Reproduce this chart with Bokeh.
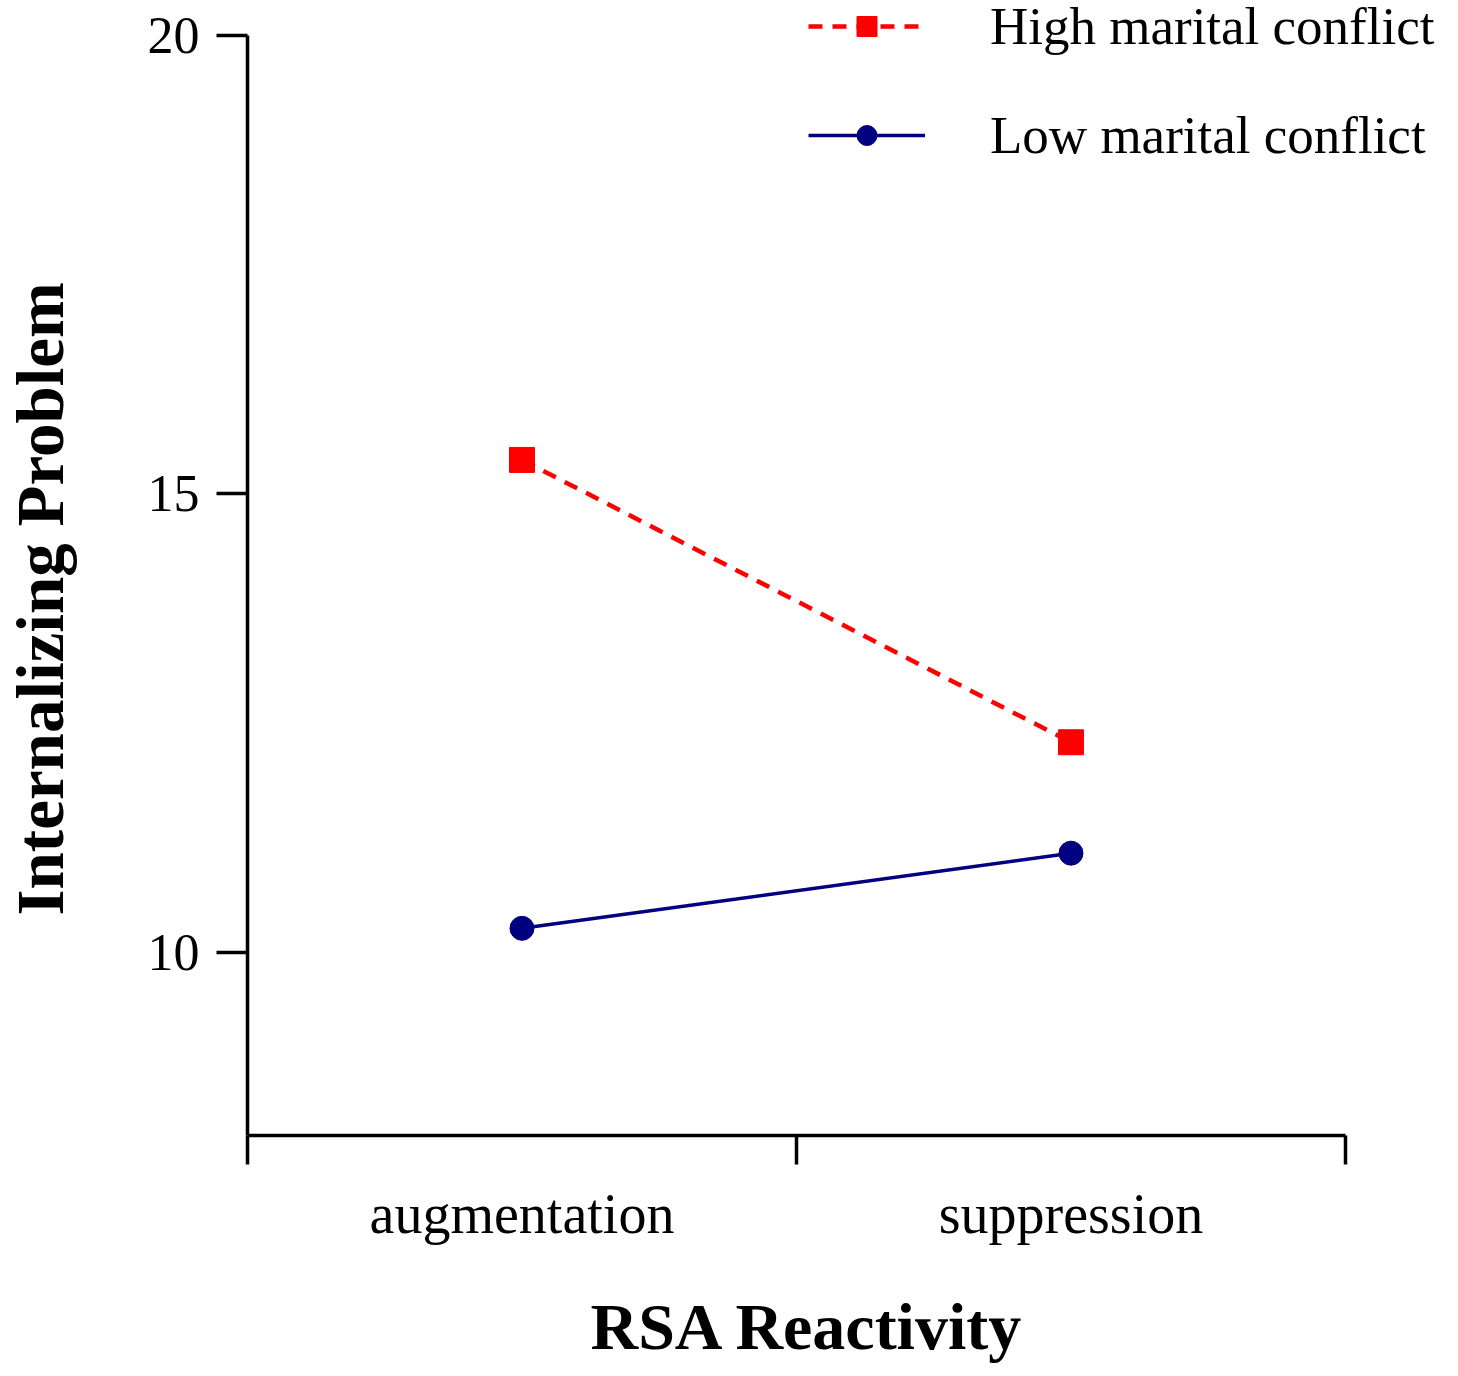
from bokeh.plotting import figure
from bokeh.models import (Range1d, FixedTicker, Legend, LegendItem, ColumnDataSource, Title,
                          LinearAxis)
from bokeh.embed import file_html
from bokeh.resources import INLINE

categories = ["augmentation", "suppression"]
x_pos = [0.5, 1.5]
high_values = [15.37, 12.29]
low_values = [10.26, 11.08]
y_ticks = [10, 15, 20]
series_names = ["High marital conflict", "Low marital conflict"]
x_title = "RSA Reactivity"
y_title = "Internalizing Problem"

FONT = "Liberation Serif"

# frame extends past the axes so that the legend (drawn at top right) is not clipped;
# axis bounds keep the axis lines to x 0..2 and y 8..20
p = figure(width=1450, height=1368, output_backend="svg", toolbar_location=None,
           x_range=Range1d(0, 2.1913), y_range=Range1d(8, 20.382),
           min_border_left=247, min_border_right=0, min_border_top=0, min_border_bottom=233)
p.outline_line_color = None
p.grid.visible = False
p.background_fill_color = "white"
p.border_fill_color = "white"

# x axis: labels at category centres, ticks at boundaries
p.xaxis.bounds = (0, 2)
p.xaxis.ticker = FixedTicker(ticks=x_pos, minor_ticks=[0, 1, 2])
p.xaxis.major_label_overrides = {x: c for x, c in zip(x_pos, categories)}
p.xaxis.major_tick_out = 0
p.xaxis.major_tick_in = 0
p.xaxis.minor_tick_out = 29
p.xaxis.minor_tick_in = 0
p.xaxis.minor_tick_line_width = 3.5
p.xaxis.axis_line_width = 3.5
p.xaxis.major_label_text_font = FONT
p.xaxis.major_label_text_font_size = "56px"
p.xaxis.major_label_text_color = "black"
p.xaxis.major_label_standoff = 18

p.yaxis.bounds = (8, 20)
p.yaxis.ticker = FixedTicker(ticks=y_ticks, minor_ticks=[])
p.yaxis.major_tick_out = 31
p.yaxis.major_tick_in = 0
p.yaxis.major_tick_line_width = 3.5
p.yaxis.axis_line_width = 3.5
p.yaxis.major_label_text_font = FONT
p.yaxis.major_label_text_font_size = "52px"
p.yaxis.major_label_text_color = "black"
p.yaxis.major_label_standoff = 17


def spacer(size, tick):
    # an invisible axis whose only job is to take up `size` pixels of the side panel
    return LinearAxis(ticker=FixedTicker(ticks=[tick], minor_ticks=[]), major_tick_out=size,
                      major_tick_in=0, major_tick_line_alpha=0, major_label_standoff=0,
                      major_label_overrides={tick: ""}, major_label_text_font_size="1px",
                      axis_line_alpha=0)


p.add_layout(spacer(40, 1), "below")
p.add_layout(spacer(68, 10), "left")

# axis titles as Titles, aligned to the axis extent (not the wider frame)
p.add_layout(Title(text=x_title, align="left", offset=343, text_font=FONT,
                   text_font_style="bold", text_font_size="66px", text_color="black",
                   text_line_height=0.9, standoff=0), "below")
p.add_layout(Title(text=y_title, align="left", offset=220, text_font=FONT,
                   text_font_style="bold", text_font_size="67px", text_color="black",
                   text_line_height=0.9, standoff=0), "left")

src_h = ColumnDataSource(dict(x=x_pos, y=high_values))
src_l = ColumnDataSource(dict(x=x_pos, y=low_values))

lh = p.line("x", "y", source=src_h, line_color="#FF0000", line_width=4.5, line_dash="14 10")
mh = p.scatter("x", "y", source=src_h, marker="square", size=25, fill_color="#FF0000", line_color="#FF0000")
ll = p.line("x", "y", source=src_l, line_color="#000080", line_width=3.5)
ml = p.scatter("x", "y", source=src_l, marker="circle", size=24, fill_color="#000080", line_color="#000080")

legend = Legend(items=[LegendItem(label=series_names[0], renderers=[lh, mh]),
                       LegendItem(label=series_names[1], renderers=[ll, ml])],
                location=(561, 970), orientation="vertical",
                glyph_width=117, glyph_height=50, label_height=50,
                label_standoff=65, spacing=49, padding=0, margin=0,
                border_line_color=None, background_fill_alpha=0,
                label_text_font=FONT, label_text_font_size="53px", label_text_color="black")
p.add_layout(legend, "center")

open("out.html", "w").write(file_html(p, INLINE))
